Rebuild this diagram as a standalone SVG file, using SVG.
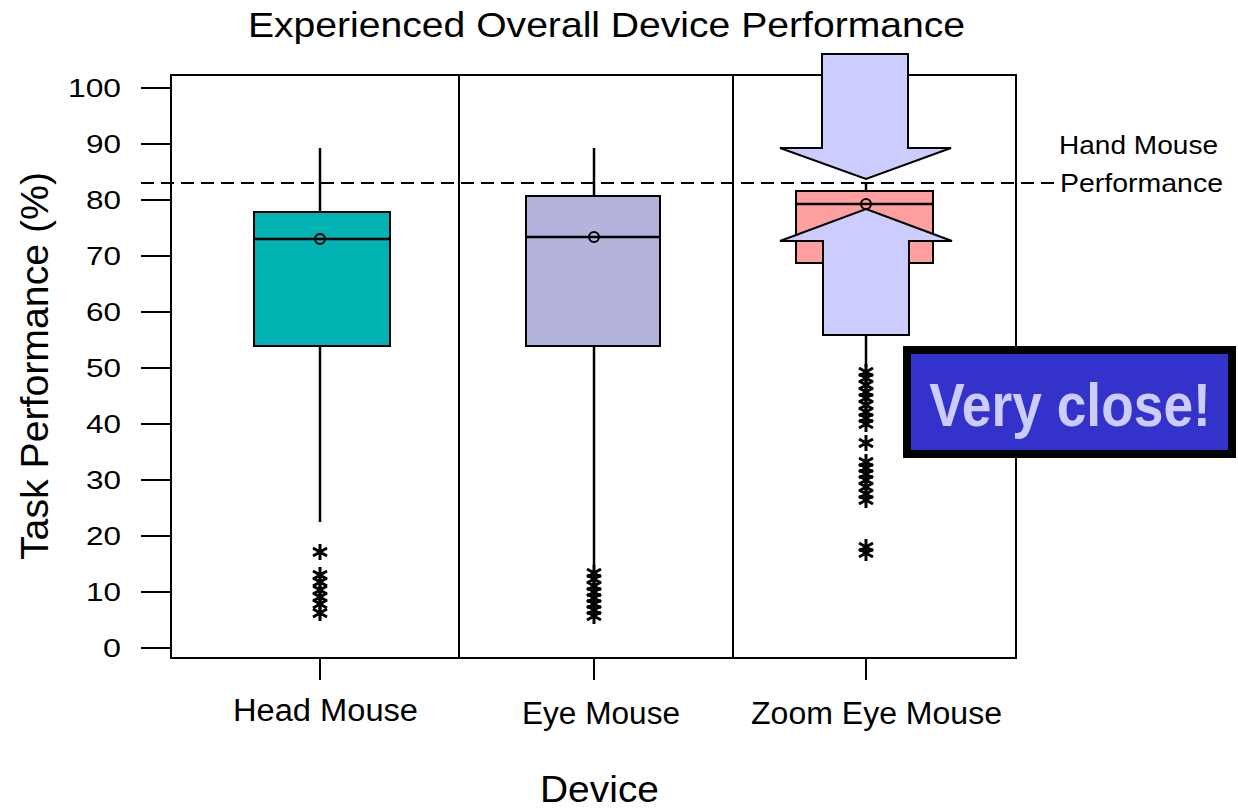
<svg xmlns="http://www.w3.org/2000/svg" width="1238" height="811" viewBox="0 0 1238 811">
  <style>
    text { font-family: "Liberation Sans", Arial, sans-serif; fill: #000; }
    .tick { font-size: 25px; text-anchor: end; }
    .cat { font-size: 31px; }
    .ax { stroke: #000; stroke-width: 2; fill: none; }
    .box { stroke: #000; stroke-width: 2; }
    .wh { stroke: #000; stroke-width: 2.5; }
    .mean { fill: none; stroke: #000; stroke-width: 2; }
    .arrow { fill: #CCCCFF; stroke: #000; stroke-width: 2; stroke-linejoin: miter; }
    .callout-text { fill: #CCCCFF; font-family: "Liberation Sans", Arial, sans-serif; font-weight: bold; }
  </style>
  <defs>
    <g id="star">
      <path d="M0,-8 V8 M-7,-4 L7,4 M-7,4 L7,-4" stroke="#000" stroke-width="3" fill="none"/>
    </g>
  </defs>
  <rect width="1238" height="811" fill="#fff"/>

  <!-- title and axis labels -->
  <text x="248" y="37" font-size="35" textLength="717" lengthAdjust="spacingAndGlyphs">Experienced Overall Device Performance</text>
  <text x="540" y="802" font-size="36" textLength="119" lengthAdjust="spacingAndGlyphs">Device</text>
  <text transform="translate(48,560) rotate(-90)" font-size="39" textLength="388" lengthAdjust="spacingAndGlyphs">Task Performance (%)</text>

  <!-- plot frame and dividers -->
  <g id="frame">
    <rect x="171" y="75" width="845" height="583" class="ax"/>
    <line x1="459" y1="75" x2="459" y2="658" class="ax"/>
    <line x1="733" y1="75" x2="733" y2="658" class="ax"/>
  </g>

  <!-- y axis ticks -->
  <g id="yaxis">
    <path class="ax" d="M141,648 H171 M141,592 H171 M141,536 H171 M141,480 H171 M141,424 H171 M141,368 H171 M141,312 H171 M141,256 H171 M141,200 H171 M141,144 H171 M141,88 H171"/>
    <text class="tick" x="121" y="657" textLength="18" lengthAdjust="spacingAndGlyphs">0</text>
    <text class="tick" x="121" y="601" textLength="35" lengthAdjust="spacingAndGlyphs">10</text>
    <text class="tick" x="121" y="545" textLength="35" lengthAdjust="spacingAndGlyphs">20</text>
    <text class="tick" x="121" y="489" textLength="35" lengthAdjust="spacingAndGlyphs">30</text>
    <text class="tick" x="121" y="433" textLength="35" lengthAdjust="spacingAndGlyphs">40</text>
    <text class="tick" x="121" y="377" textLength="35" lengthAdjust="spacingAndGlyphs">50</text>
    <text class="tick" x="121" y="321" textLength="35" lengthAdjust="spacingAndGlyphs">60</text>
    <text class="tick" x="121" y="265" textLength="35" lengthAdjust="spacingAndGlyphs">70</text>
    <text class="tick" x="121" y="209" textLength="35" lengthAdjust="spacingAndGlyphs">80</text>
    <text class="tick" x="121" y="153" textLength="35" lengthAdjust="spacingAndGlyphs">90</text>
    <text class="tick" x="121" y="97" textLength="53" lengthAdjust="spacingAndGlyphs">100</text>
  </g>

  <!-- x axis ticks -->
  <g id="xaxis">
    <path class="ax" d="M320,658 V680 M594,658 V680 M866,658 V680"/>
    <text class="cat" x="233" y="721" textLength="185" lengthAdjust="spacingAndGlyphs">Head Mouse</text>
    <text class="cat" x="522" y="724" textLength="158" lengthAdjust="spacingAndGlyphs">Eye Mouse</text>
    <text class="cat" x="751" y="724" textLength="251" lengthAdjust="spacingAndGlyphs">Zoom Eye Mouse</text>
  </g>

  <!-- Head Mouse -->
  <g id="head-mouse">
    <line class="wh" x1="320" y1="148" x2="320" y2="212"/>
    <line class="wh" x1="320" y1="346" x2="320" y2="522"/>
    <rect class="box" x="254" y="212" width="136" height="134" fill="#00B2B2"/>
    <line class="wh" x1="254" y1="239" x2="390" y2="239"/>
    <circle class="mean" cx="320" cy="239" r="5"/>
    <use href="#star" x="320" y="552"/>
    <use href="#star" x="320" y="575"/>
    <use href="#star" x="320" y="582"/>
    <use href="#star" x="320" y="590"/>
    <use href="#star" x="320" y="597"/>
    <use href="#star" x="320" y="604"/>
    <use href="#star" x="320" y="613"/>
  </g>

  <!-- Eye Mouse -->
  <g id="eye-mouse">
    <line class="wh" x1="594" y1="148" x2="594" y2="196"/>
    <line class="wh" x1="594" y1="346" x2="594" y2="566"/>
    <rect class="box" x="526" y="196" width="134" height="150" fill="#B3B3DC"/>
    <line class="wh" x1="526" y1="237" x2="660" y2="237"/>
    <circle class="mean" cx="594" cy="237" r="5"/>
    <use href="#star" x="594" y="573"/>
    <use href="#star" x="594" y="579"/>
    <use href="#star" x="594" y="586"/>
    <use href="#star" x="594" y="592"/>
    <use href="#star" x="594" y="598"/>
    <use href="#star" x="594" y="604"/>
    <use href="#star" x="594" y="610"/>
    <use href="#star" x="594" y="616"/>
  </g>

  <!-- hand mouse reference line -->
  <g id="hand-mouse-line">
    <line x1="141" y1="183" x2="1058" y2="183" stroke="#000" stroke-width="2" stroke-dasharray="13,7"/>
    <text x="1059" y="154" font-size="26" textLength="159" lengthAdjust="spacingAndGlyphs">Hand Mouse</text>
    <text x="1060" y="192" font-size="26" textLength="163" lengthAdjust="spacingAndGlyphs">Performance</text>
  </g>

  <!-- Zoom Eye Mouse -->
  <g id="zoom-eye-mouse">
    <line class="wh" x1="866" y1="183" x2="866" y2="191"/>
    <line class="wh" x1="866" y1="263" x2="866" y2="367"/>
    <rect class="box" x="796" y="191" width="137" height="72" fill="#FF9F9F"/>
    <line class="wh" x1="796" y1="204" x2="933" y2="204"/>
    <circle class="mean" cx="866" cy="204" r="5"/>
    <use href="#star" x="866" y="372"/>
    <use href="#star" x="866" y="378"/>
    <use href="#star" x="866" y="385"/>
    <use href="#star" x="866" y="392"/>
    <use href="#star" x="866" y="398"/>
    <use href="#star" x="866" y="405"/>
    <use href="#star" x="866" y="412"/>
    <use href="#star" x="866" y="418"/>
    <use href="#star" x="866" y="424"/>
    <use href="#star" x="866" y="443"/>
    <use href="#star" x="866" y="462"/>
    <use href="#star" x="866" y="468"/>
    <use href="#star" x="866" y="474"/>
    <use href="#star" x="866" y="480"/>
    <use href="#star" x="866" y="487"/>
    <use href="#star" x="866" y="494"/>
    <use href="#star" x="866" y="500"/>
    <use href="#star" x="866" y="547"/>
    <use href="#star" x="866" y="553"/>
  </g>

  <!-- pointing arrows -->
  <g id="arrow-down">
    <polygon class="arrow" points="822,54 908,54 908,148 951,148 866,179 780,148 822,148"/>
  </g>
  <g id="arrow-up">
    <polygon class="arrow" points="866,209 952,241 909,241 909,335 823,335 823,241 780,241"/>
  </g>

  <!-- callout, text condensed horizontally -->
  <g id="callout">
    <rect x="907" y="350" width="325" height="104" fill="#3333CC" stroke="#000" stroke-width="8"/>
    <text class="callout-text" transform="translate(1070,426) scale(0.86,1)" x="0" y="0" font-size="62" text-anchor="middle">Very close!</text>
  </g>
</svg>
